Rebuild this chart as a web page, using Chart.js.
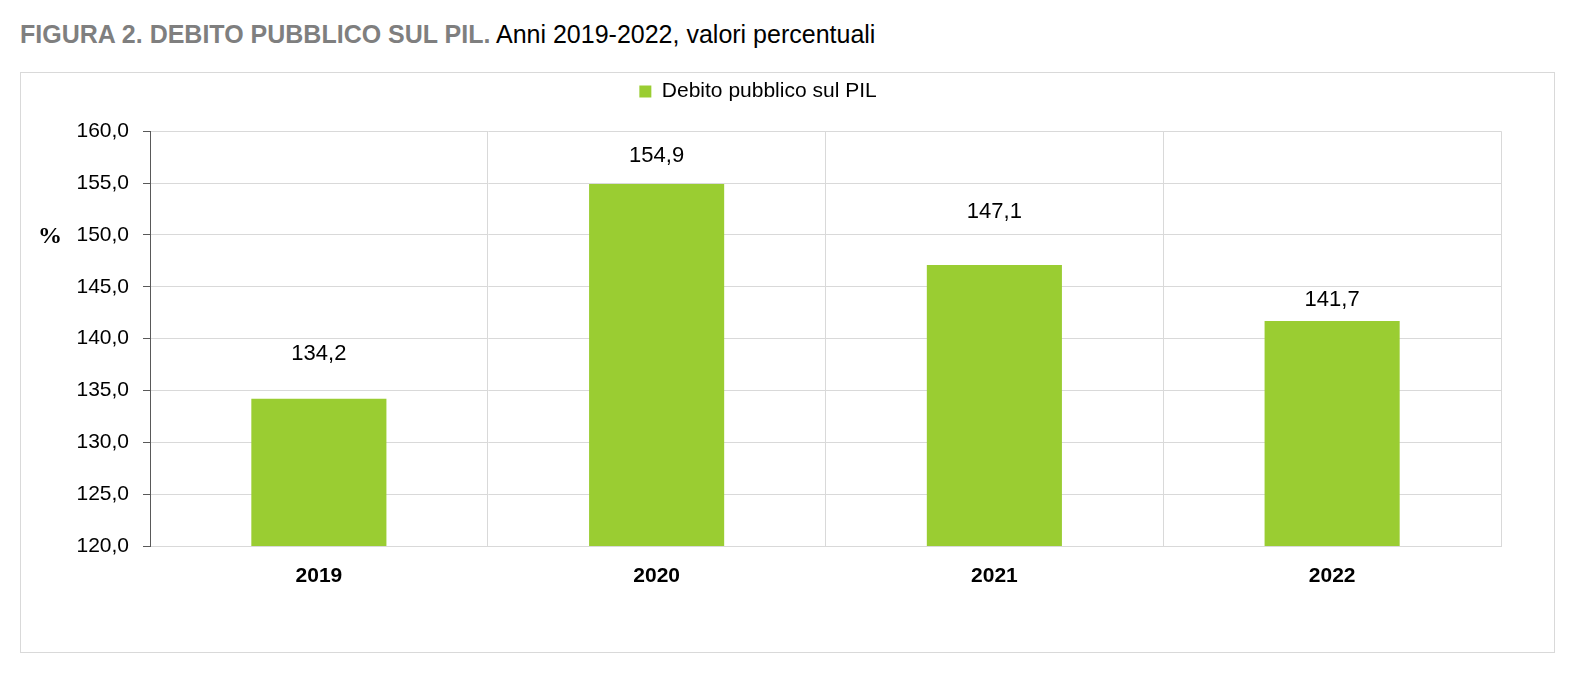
<!DOCTYPE html>
<html>
<head>
<meta charset="utf-8">
<script src="https://cdn.jsdelivr.net/npm/chart.js@4.4.1/dist/chart.umd.min.js"></script>
<style>
  body { margin: 0; background: #fff; width: 1582px; height: 674px; position: relative; overflow: hidden; }
  #title {
    position: absolute; left: 20px; top: 20px; white-space: nowrap;
    font-family: 'Liberation Sans Narrow', 'Arial Narrow', 'Liberation Sans', sans-serif;
    font-size: 25px; color: #000;
  }
  #title b { color: #7f7f7f; }
  #box {
    position: absolute; left: 20px; top: 72px; width: 1535px; height: 581px;
    border: 1px solid #d9d9d9; box-sizing: border-box;
  }
</style>
</head>
<body>
<div id="title"><b>FIGURA 2. DEBITO PUBBLICO SUL PIL.</b> Anni 2019-2022, valori percentuali</div>
<div id="box"><canvas id="myChart"></canvas></div>
<script>
var years = ['2019', '2020', '2021', '2022'];
var debtRatio = [134.2, 154.9, 147.1, 141.7];
var seriesName = 'Debito pubblico sul PIL';

var narrow = "'Liberation Sans Narrow', 'Arial Narrow', 'Liberation Sans', sans-serif";

function fmt(v, d) {
  return v.toFixed(d).replace('.', ',');
}

/* value labels above the bars + the % unit next to the y axis */
const labelsPlugin = {
  id: 'barLabels',
  afterDatasetsDraw(chart, args, opts) {
    const ctx = chart.ctx;
    const meta = chart.getDatasetMeta(0);
    ctx.save();
    ctx.fillStyle = '#000';
    ctx.font = '22px ' + narrow;
    ctx.textAlign = 'center';
    ctx.textBaseline = 'middle';
    meta.data.forEach(function(bar, i) {
      ctx.fillText(fmt(chart.data.datasets[0].data[i], 1), bar.x, bar.y - opts.gaps[i]);
    });
    const y = chart.scales.y;
    ctx.font = 'bold 24px "Liberation Serif", "DejaVu Serif", serif';
    ctx.fillText('%', chart.chartArea.left - 100, y.getPixelForValue(150) + 2);
    ctx.restore();
  }
};

/* legend in the original sits a bit left of the centre */
const legendShift = {
  id: 'legendShift',
  afterLayout(chart, args, opts) {
    chart.legend.left -= opts.shift;
  }
};

const config = {
  type: 'bar',
  data: {
    labels: years,
    datasets: [{
      label: seriesName,
      data: debtRatio,
      backgroundColor: '#9acd32',
      borderWidth: 0,
      categoryPercentage: 0.8,
      barPercentage: 0.5,
    }]
  },
  plugins: [labelsPlugin, legendShift],
  options: {
    responsive: true,
    maintainAspectRatio: false,
    animation: false,
    layout: {
      padding: { top: 0, right: 53, bottom: 0, left: 0 }
    },
    scales: {
      x: {
        grid: { color: '#d9d9d9', drawTicks: false, offset: true },
        border: { color: '#d9d9d9' },
        ticks: {
          color: '#000',
          padding: 18,
          font: { family: narrow, size: 21, weight: 'bold' }
        },
        afterFit(scale) { scale.height = 106; }
      },
      y: {
        min: 120,
        max: 160,
        grid: { color: '#d9d9d9', tickColor: '#595959', tickLength: 7 },
        border: { color: '#595959' },
        ticks: {
          stepSize: 5,
          color: '#000',
          padding: 14,
          font: { family: narrow, size: 21 },
          callback: function(v) { return fmt(v, 1); }
        },
        afterFit(scale) { scale.width = 129; }
      }
    },
    plugins: {
      legend: {
        display: true,
        labels: {
          color: '#000',
          boxWidth: 12,
          boxHeight: 12,
          padding: 8,
          font: { family: narrow, size: 21 }
        }
      },
      /* empty subtitle used as a gap between legend and plot */
      subtitle: {
        display: true,
        text: '',
        weight: 500,
        font: { size: 1 },
        padding: { top: 0, bottom: 18 }
      },
      tooltip: { enabled: false },
      barLabels: { gaps: [45, 28, 53, 21] },
      legendShift: { shift: 6 }
    }
  }
};

var myChart = new Chart(document.getElementById('myChart'), config);
</script>
</body>
</html>
